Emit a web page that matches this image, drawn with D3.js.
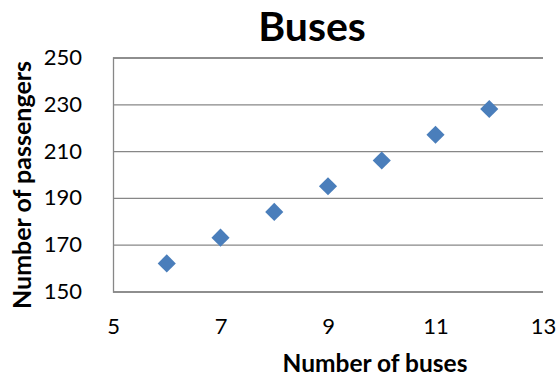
<!DOCTYPE html>
<html>
<head>
<meta charset="utf-8">
<script src="https://cdn.jsdelivr.net/npm/d3@7"></script>
<style>
  html, body { margin: 0; padding: 0; background: #fff; }
  svg { display: block; }
  text { font-family: Lato, "Open Sans", sans-serif; fill: #000; }
</style>
</head>
<body>
<svg id="chart" width="558" height="376"></svg>
<script>
// Buses vs passengers
const buses = [6, 7, 8, 9, 10, 11, 12];
const passengers = [162, 173, 184, 195, 206, 217, 228];
const xTicks = [5, 7, 9, 11, 13];
const yTicks = [150, 170, 190, 210, 230, 250];

const svg = d3.select("#chart");
const plot = { left: 113, right: 543, top: 57.5, bottom: 291.5 };

const x = d3.scaleLinear().domain([5, 13]).range([plot.left, plot.right]);
const y = d3.scaleLinear().domain([150, 250]).range([plot.bottom, plot.top]);

// Horizontal gridlines + y labels
const yAxis = d3.axisLeft(y).tickValues(yTicks).tickSize(-(plot.right - plot.left)).tickPadding(31).tickFormat(d3.format("d"));
const gy = svg.append("g").attr("transform", `translate(${plot.left},0)`).call(yAxis);
gy.select(".domain").attr("stroke", "#878787").attr("stroke-width", 1.3);
gy.selectAll(".tick line").attr("stroke", "#878787").attr("stroke-width", 1.3);
gy.selectAll(".tick text").attr("font-size", 22).attr("font-family", "Lato, sans-serif").attr("fill", "#000");

// X labels
const xAxis = d3.axisBottom(x).tickValues(xTicks).tickSize(0).tickPadding(27).tickFormat(d3.format("d"));
const gx = svg.append("g").attr("transform", `translate(0,${plot.bottom})`).call(xAxis);
gx.select(".domain").remove();
gx.selectAll(".tick text").attr("font-size", 22).attr("font-family", "Lato, sans-serif").attr("fill", "#000");

// Points
const pts = buses.map((b, i) => ({ b, p: passengers[i] }));
svg.append("g").selectAll("path").data(pts).enter().append("path")
  .attr("d", d3.symbol().type(d3.symbolDiamond2).size(210)())
  .attr("transform", d => `translate(${x(d.b)},${y(d.p)})`)
  .attr("fill", "#4A7EBB");

// Titles
svg.append("text").attr("x", 312).attr("y", 41).attr("text-anchor", "middle")
  .attr("font-size", 41).attr("font-weight", "bold").text("Buses");
svg.append("text").attr("x", 375).attr("y", 372).attr("text-anchor", "middle")
  .attr("font-size", 24.5).attr("font-weight", "bold").text("Number of buses");
svg.append("text").attr("transform", "translate(31,185) rotate(-90)").attr("text-anchor", "middle")
  .attr("font-size", 25).attr("font-weight", "bold").text("Number of passengers");
</script>
</body>
</html>
